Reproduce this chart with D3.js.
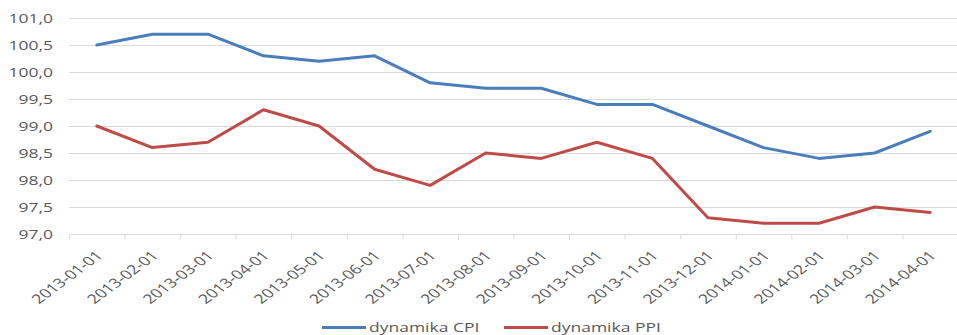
<!DOCTYPE html>
<html>
<head>
<meta charset="utf-8">
<script src="https://cdn.jsdelivr.net/npm/d3@7"></script>
<style>
  html, body { margin: 0; padding: 0; background: #fff; }
  svg { display: block; font-family: "Open Sans", sans-serif; }
  .grid line { stroke: #d9d9d9; stroke-width: 1; }
</style>
</head>
<body>
<svg id="chart" width="957" height="335"></svg>
<script>
// months on the x axis
const months = ["2013-01-01", "2013-02-01", "2013-03-01", "2013-04-01", "2013-05-01", "2013-06-01",
  "2013-07-01", "2013-08-01", "2013-09-01", "2013-10-01", "2013-11-01", "2013-12-01",
  "2014-01-01", "2014-02-01", "2014-03-01", "2014-04-01"];
const cpi = [100.5, 100.7, 100.7, 100.3, 100.2, 100.3, 99.8, 99.7, 99.7, 99.4, 99.4, 99.0, 98.6, 98.4, 98.5, 98.9];
const ppi = [99.0, 98.6, 98.7, 99.3, 99.0, 98.2, 97.9, 98.5, 98.4, 98.7, 98.4, 97.3, 97.2, 97.2, 97.5, 97.4];
const yTicks = [97.0, 97.5, 98.0, 98.5, 99.0, 99.5, 100.0, 100.5, 101.0];
const seriesNames = ["dynamika CPI", "dynamika PPI"];
const colors = ["#4a7ebb", "#be4b48"];

const svg = d3.select("#chart"),
      pLeft = 69, pRight = 958, pTop = 18, pBottom = 234,
      sx = 1.4, txt = "#595959";   // the picture is stretched sideways

const x = d3.scaleBand().domain(months).range([pLeft, pRight]);
const y = d3.scaleLinear().domain([97, 101]).range([pBottom, pTop]);
const fmt = v => v.toFixed(1).replace(".", ",");

// horizontal grid
svg.append("g").attr("class", "grid")
  .selectAll("line").data(yTicks.slice(1)).enter().append("line")
  .attr("x1", pLeft).attr("x2", 957)
  .attr("y1", d => y(d) + 0.5).attr("y2", d => y(d) + 0.5);

// y axis labels
svg.append("g").selectAll("text").data(yTicks).enter().append("text")
  .attr("transform", d => `translate(53,${y(d)}) scale(${sx},1)`)
  .attr("text-anchor", "end").attr("dy", "0.36em")
  .attr("font-size", 12.5).attr("fill", txt)
  .text(fmt);

// x axis: baseline with ticks between categories
const xa = svg.append("g").attr("transform", `translate(0,${pBottom + 0.5})`);
xa.append("line").attr("x1", pLeft).attr("x2", 957).attr("stroke", "#d9d9d9");
xa.selectAll("line.tk").data(months).enter().append("line").attr("class", "tk")
  .attr("x1", d => x(d) + 0.5).attr("x2", d => x(d) + 0.5)
  .attr("y1", 0).attr("y2", 5).attr("stroke", "#d9d9d9");
xa.selectAll("text").data(months).enter().append("text")
  .attr("transform", d => `translate(${x(d) + x.bandwidth() / 2 + 7},22) scale(1.35,1) rotate(-45)`)
  .attr("text-anchor", "end")
  .attr("font-size", 13).attr("fill", txt)
  .text(d => d);

// lines
const line = d3.line().x((d, i) => x(months[i]) + x.bandwidth() / 2).y(d => y(d));
[cpi, ppi].forEach((s, k) => {
  svg.append("path").datum(s)
    .attr("d", line).attr("fill", "none")
    .attr("stroke", colors[k]).attr("stroke-width", 3)
    .attr("stroke-linejoin", "round").attr("stroke-linecap", "round");
});

// legend
const lg = svg.append("g").attr("transform", "translate(322,327.5)");
const lgX = [0, 182];
seriesNames.forEach((n, k) => {
  const g = lg.append("g").attr("transform", `translate(${lgX[k]},0)`);
  g.append("line").attr("x1", 0).attr("x2", 44).attr("stroke", colors[k]).attr("stroke-width", 3);
  g.append("text").attr("transform", `translate(47,0) scale(${sx},1)`)
    .attr("dy", "0.32em").attr("font-size", 12.5).attr("fill", txt).text(n);
});
</script>
</body>
</html>
